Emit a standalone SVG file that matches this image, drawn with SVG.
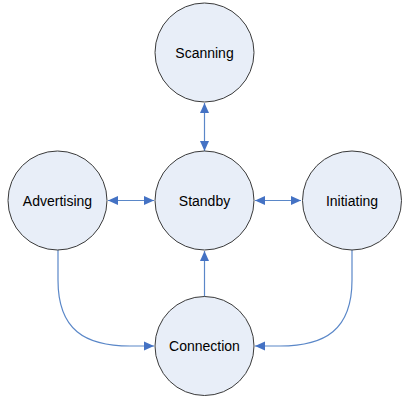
<svg xmlns="http://www.w3.org/2000/svg" width="410" height="400" viewBox="0 0 410 400">
<style>
.node circle{fill:#e8eef8;stroke:#3a3a3a;stroke-width:1}
.node text{font-family:"Liberation Sans",Arial,sans-serif;font-size:14px;fill:#000;text-anchor:middle;dominant-baseline:central}
.edge{fill:none;stroke:#5a87c8;stroke-width:1.2}
</style>
<defs>
<marker id="ah" viewBox="0 0 10 10" refX="10" refY="5" markerWidth="10" markerHeight="10" markerUnits="userSpaceOnUse" orient="auto-start-reverse">
<path d="M0,0.5 L10,5 L0,9.5 Z" fill="#4472c4"/>
</marker>
</defs>
<rect width="410" height="400" fill="#fff"/>
<g id="connectors">
<line class="edge" x1="204.5" y1="103" x2="204.5" y2="151" marker-start="url(#ah)" marker-end="url(#ah)"/>
<line class="edge" x1="108" y1="200.5" x2="154" y2="200.5" marker-start="url(#ah)" marker-end="url(#ah)"/>
<line class="edge" x1="255" y1="200.5" x2="301" y2="200.5" marker-start="url(#ah)" marker-end="url(#ah)"/>
<line class="edge" x1="204.5" y1="297" x2="204.5" y2="251" marker-end="url(#ah)"/>
<path class="edge" d="M58,250 V280 C58,330 85,346 130,346 H154" marker-end="url(#ah)"/>
<path class="edge" d="M352,250 V280 C352,330 325,346 280,346 H255" marker-end="url(#ah)"/>
</g>
<g id="scanning" class="node"><circle cx="204.5" cy="52.5" r="49.5"/><text x="204.5" y="52.5">Scanning</text></g>
<g id="standby" class="node"><circle cx="204.5" cy="200.5" r="49.5"/><text x="204.5" y="200.5">Standby</text></g>
<g id="advertising" class="node"><circle cx="57.5" cy="200.5" r="49.5"/><text x="57.5" y="200.5">Advertising</text></g>
<g id="initiating" class="node"><circle cx="352" cy="200.5" r="49.5"/><text x="352" y="200.5">Initiating</text></g>
<g id="connection" class="node"><circle cx="204.5" cy="346" r="49.5"/><text x="204.5" y="346">Connection</text></g>
</svg>
